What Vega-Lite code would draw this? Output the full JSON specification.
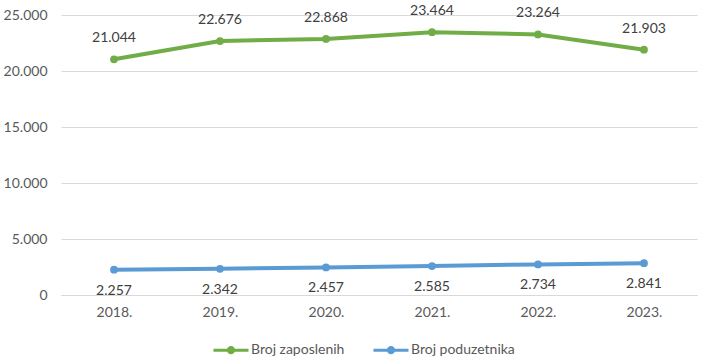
{
  "$schema": "https://vega.github.io/schema/vega-lite/v6.json",
  "width": 636,
  "height": 280,
  "autosize": {"type": "none"},
  "padding": {"left": 61, "top": 15, "right": 9, "bottom": 66},
  "config": {
    "locale": {"number": {"decimal": ",", "thousands": ".", "grouping": [3], "currency": ["", ""]}},
    "view": {"stroke": null},
    "font": "Lato"
  },
  "data": {
    "values": [
      {"year": "2018.", "series": "Broj zaposlenih", "value": 21044},
      {"year": "2019.", "series": "Broj zaposlenih", "value": 22676},
      {"year": "2020.", "series": "Broj zaposlenih", "value": 22868},
      {"year": "2021.", "series": "Broj zaposlenih", "value": 23464},
      {"year": "2022.", "series": "Broj zaposlenih", "value": 23264},
      {"year": "2023.", "series": "Broj zaposlenih", "value": 21903},
      {"year": "2018.", "series": "Broj poduzetnika", "value": 2257},
      {"year": "2019.", "series": "Broj poduzetnika", "value": 2342},
      {"year": "2020.", "series": "Broj poduzetnika", "value": 2457},
      {"year": "2021.", "series": "Broj poduzetnika", "value": 2585},
      {"year": "2022.", "series": "Broj poduzetnika", "value": 2734},
      {"year": "2023.", "series": "Broj poduzetnika", "value": 2841}
    ]
  },
  "encoding": {
    "x": {
      "field": "year", "type": "ordinal",
      "scale": {"paddingInner": 0, "paddingOuter": 0.5},
      "axis": {"title": null, "labelAngle": 0, "domain": true, "domainColor": "#d9d9d9", "ticks": false, "labelColor": "#595959", "labelFontSize": 14, "labelPadding": 10, "labelFont": "Lato"}
    },
    "y": {
      "field": "value", "type": "quantitative",
      "scale": {"domain": [0, 25000], "nice": false},
      "axis": {"title": null, "values": [0, 5000, 10000, 15000, 20000, 25000], "format": ",d", "domain": false, "ticks": false, "gridColor": "#d9d9d9", "labelColor": "#595959", "labelFontSize": 14, "labelPadding": 14, "labelFont": "Lato"}
    },
    "color": {
      "field": "series", "type": "nominal",
      "scale": {"domain": ["Broj zaposlenih", "Broj poduzetnika"], "range": ["#70AD47", "#5B9BD5"]},
      "legend": {
        "title": null, "orient": "none", "direction": "horizontal",
        "legendX": 151, "legendY": 316,
        "symbolType": "M-1,0L1,0M-0.15,0a0.15,0.15 0 1,0 0.3,0a0.15,0.15 0 1,0 -0.3,0",
        "symbolSize": 1225, "symbolStrokeWidth": 3,
        "labelFontSize": 14, "labelColor": "#595959", "labelFont": "Lato",
        "columnPadding": 22, "labelOffset": 1
      }
    }
  },
  "layer": [
    {"mark": {"type": "line", "strokeWidth": 4, "point": {"size": 60, "filled": true}}},
    {
      "transform": [{"filter": "datum.series === 'Broj zaposlenih'"}],
      "mark": {"type": "text", "dy": -21, "fontSize": 14, "font": "Lato"},
      "encoding": {"text": {"field": "value", "type": "quantitative", "format": ",d"}, "color": {"value": "#404040"}}
    },
    {
      "transform": [{"filter": "datum.series === 'Broj poduzetnika'"}],
      "mark": {"type": "text", "dy": 21, "fontSize": 14, "font": "Lato"},
      "encoding": {"text": {"field": "value", "type": "quantitative", "format": ",d"}, "color": {"value": "#404040"}}
    }
  ]
}
